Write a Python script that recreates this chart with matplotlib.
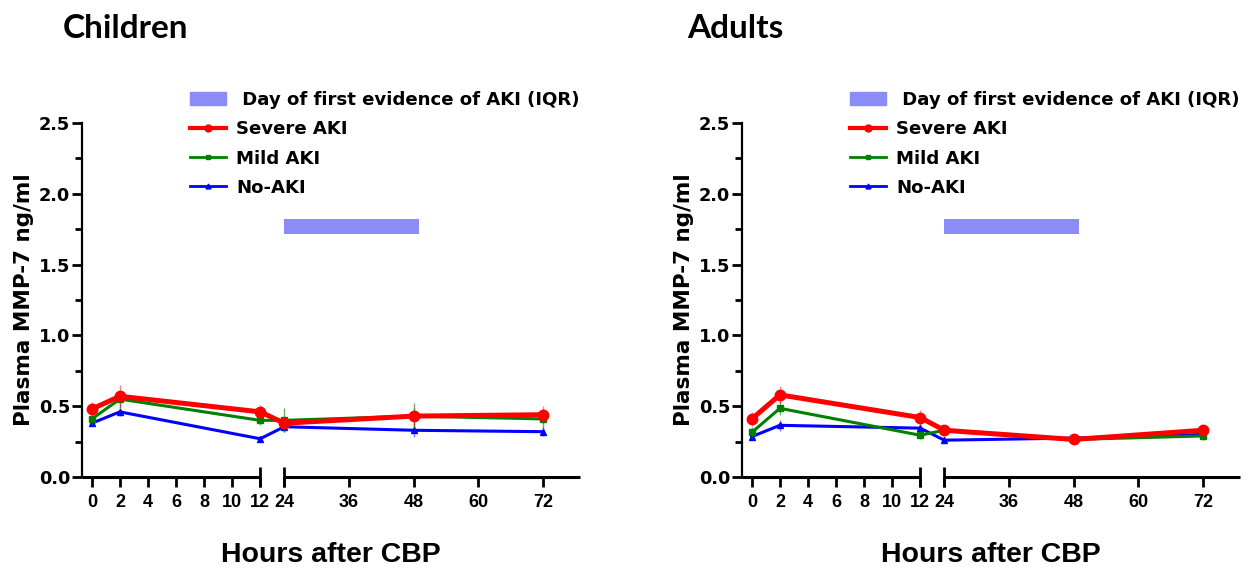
import numpy as np
import matplotlib
matplotlib.use("Agg")
import matplotlib.pyplot as plt
from matplotlib.lines import Line2D
from matplotlib.patches import Patch

plt.rcParams.update({
    "font.family": ["Liberation Sans", "DejaVu Sans"],
    "font.weight": "bold",
    "axes.linewidth": 1.6,
})

hours = [0, 2, 12, 24, 48, 72]

# children
ch_severe = [0.48, 0.57, 0.46, 0.38, 0.43, 0.44]
ch_severe_err = [0.05, 0.08, 0.05, 0.04, 0.06, 0.06]
ch_mild = [0.41, 0.55, 0.40, 0.40, 0.43, 0.41]
ch_mild_err = [0.04, 0.06, 0.03, 0.085, 0.09, 0.07]
ch_no = [0.38, 0.46, 0.27, 0.355, 0.33, 0.32]
ch_no_err = [0.02, 0.03, 0.02, 0.04, 0.05, 0.03]

# adults
ad_severe = [0.41, 0.58, 0.42, 0.33, 0.265, 0.33]
ad_severe_err = [0.05, 0.06, 0.05, 0.04, 0.03, 0.03]
ad_mild = [0.315, 0.485, 0.295, 0.33, 0.265, 0.29]
ad_mild_err = [0.04, 0.05, 0.03, 0.03, 0.03, 0.03]
ad_no = [0.285, 0.365, 0.345, 0.26, 0.275, 0.30]
ad_no_err = [0.02, 0.04, 0.03, 0.02, 0.02, 0.02]

# day of first evidence of AKI (IQR), hours
iqr = [24, 49]
iqr_y = 1.77

left_ticks = [0, 2, 4, 6, 8, 10, 12]
right_ticks = [24, 36, 48, 60, 72]
BREAK = (12, 24)

# piecewise x scale: 0-12 wide, gap, 24-79 compressed
knots_h = [-20, 12, 24, 200]
knots_p = [-20 * 14.0, 12 * 14.0, 12 * 14.0 + 24, 12 * 14.0 + 24 + 176 * 5.375]


def fwd(h):
    return np.interp(h, knots_h, knots_p)


def inv(p):
    return np.interp(p, knots_p, knots_h)


W, H = 1249, 572
fig = plt.figure(figsize=(W / 100, H / 100), dpi=100)
WIDE = ["DejaVu Sans"]


def panel(x0, x1, title, title_x, severe, severe_err, mild, mild_err, no, no_err):
    ax = fig.add_axes([x0 / W, (H - 477) / H, (x1 - x0) / W, 354 / H])
    ax.set_xscale("function", functions=(fwd, inv))
    xmin, xmax = -0.7, 78.9
    ax.set_xlim(xmin, xmax)
    ax.set_ylim(0, 2.5)

    for k in ["top", "right", "bottom"]:
        ax.spines[k].set_visible(False)
    ax.plot([xmin, BREAK[0]], [0, 0], color="k", lw=2.2, clip_on=False, solid_capstyle="butt")
    ax.plot([BREAK[1], xmax], [0, 0], color="k", lw=2.2, clip_on=False, solid_capstyle="butt")
    ax.plot(BREAK, [0, 0], ls="none", marker="|", ms=14, mew=2, color="k", clip_on=False)

    ax.set_yticks(np.arange(0, 2.51, 0.5))
    ax.set_yticks(np.arange(0.25, 2.5, 0.5), minor=True)
    ax.set_yticklabels([f"{v:.1f}" for v in np.arange(0, 2.51, 0.5)],
                       family=WIDE, fontsize=12.8, fontweight="bold")
    ax.set_xticks(left_ticks + right_ticks)
    ax.set_xticklabels([str(t) for t in left_ticks + right_ticks],
                       fontsize=13, fontweight="bold")
    ax.xaxis.set_minor_locator(plt.NullLocator())
    ax.tick_params(axis="both", which="major", length=7, width=2, direction="out")
    ax.tick_params(axis="y", which="major", pad=1.5)
    ax.tick_params(axis="x", which="major", pad=5)
    ax.tick_params(axis="y", which="minor", length=5, width=2)

    ax.barh(iqr_y, iqr[1] - iqr[0], left=iqr[0], height=0.11, color="#8c8cf8", zorder=2)

    ax.errorbar(hours, no, yerr=no_err, color="#0000ff", lw=2.2, marker="^", ms=4,
                elinewidth=1, ecolor=(0, 0, 1, 0.5), capsize=0, clip_on=False, zorder=3)
    ax.errorbar(hours, mild, yerr=mild_err, color="#008000", lw=2.2, marker="s", ms=4.5,
                elinewidth=1, ecolor=(0, 0.5, 0, 0.6), capsize=0, clip_on=False, zorder=4)
    ax.errorbar(hours, severe, yerr=severe_err, color="#ff0000", lw=3.6, marker="o", ms=7.5,
                elinewidth=1, ecolor=(1, 0, 0, 0.5), capsize=0, clip_on=False, zorder=5)

    ax.set_ylabel("Plasma MMP-7 ng/ml", family=WIDE, fontsize=15.5, fontweight="bold",
                  va="center", ha="center")
    ax.yaxis.set_label_coords(-0.117, 0.5)
    ax.set_xlabel("Hours after CBP", fontsize=20.5, fontweight="bold", va="center")
    ax.xaxis.set_label_coords(0.5, (477 - 555) / 354)

    fig.text(title_x / W, 1 - 28 / H, title, family=["Lato", "DejaVu Sans"],
             fontsize=24, fontweight="bold", va="center")

    handles = [
        Patch(color="#8c8cf8"),
        Line2D([], [], color="#ff0000", lw=3, marker="o", ms=5),
        Line2D([], [], color="#008000", lw=2, marker="s", ms=3.5),
        Line2D([], [], color="#0000ff", lw=2, marker="^", ms=3.5),
    ]
    labels = [" Day of first evidence of AKI (IQR)", "Severe AKI", "Mild AKI", "No-AKI"]
    ax.legend(handles, labels, loc="upper left",
              bbox_to_anchor=((x0 + 108) / W, 1 - 91 / H), bbox_transform=fig.transFigure,
              frameon=False, handlelength=2.0, handletextpad=0.55, borderpad=0,
              borderaxespad=0, labelspacing=0.62, numpoints=1,
              prop={"family": WIDE, "weight": "bold", "size": 13.1})
    return ax


panel(82, 580, "Children", 63, ch_severe, ch_severe_err, ch_mild, ch_mild_err, ch_no, ch_no_err)
panel(742, 1240, "Adults", 687, ad_severe, ad_severe_err, ad_mild, ad_mild_err, ad_no, ad_no_err)

fig.savefig("out.png", dpi=100)
